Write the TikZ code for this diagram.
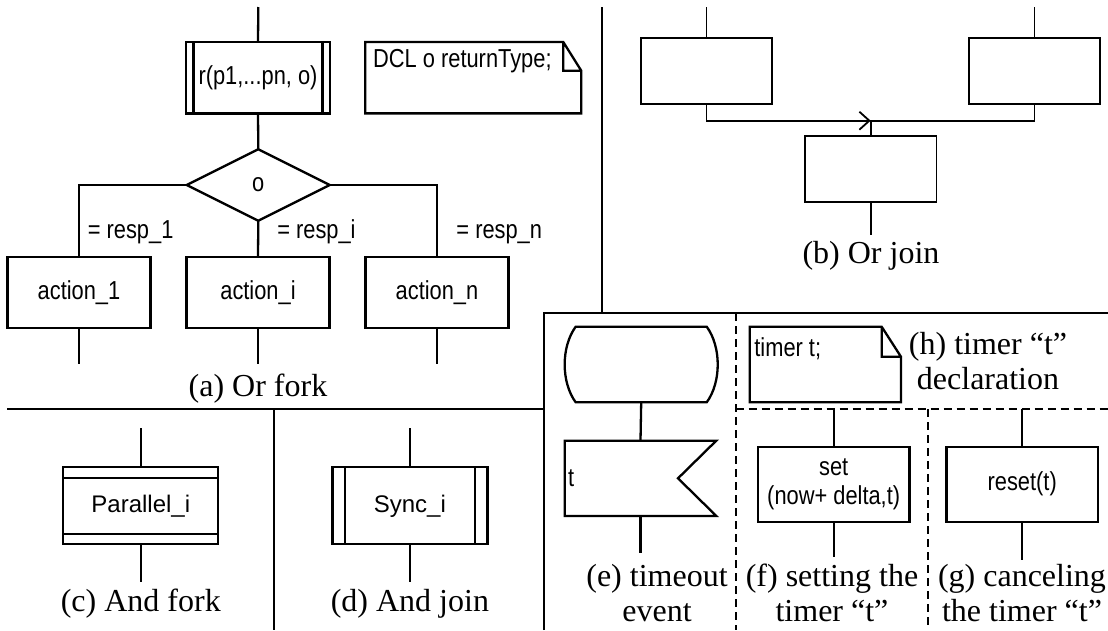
\documentclass[tikz,border=0pt]{standalone}
\usepackage{fontspec}
\setmainfont{Liberation Serif}
\newfontfamily\sdlfont[FakeStretch=0.84]{Liberation Sans}
\newfontfamily\plainsf{Liberation Sans}
\usetikzlibrary{shapes.geometric, arrows.meta}

\begin{document}
\begin{tikzpicture}[
    x=1pt, y=-1pt,
    line width=2.3pt,
    box/.style = {
        rectangle,
        draw,
        minimum width=143pt,
        minimum height=71pt,
        inner sep=0pt,
        outer sep=0pt,
        align=center,
        font=\sdlfont\fontsize{26}{29}\selectfont
    },
    callbox/.style = {box, minimum width=143.7pt, minimum height=71.3pt},
    decision/.style = {
        diamond, aspect=2, draw,
        minimum width=143pt, minimum height=71.5pt,
        inner sep=0pt, outer sep=0pt,
        font=\sdlfont\fontsize{26}{29}\selectfont
    },
    ghost/.style = {rectangle, inner sep=0pt, outer sep=0pt},
    joinbox/.style = {box, line width=1.8pt, minimum width=131.6pt, minimum height=65.7pt},
    forkbox/.style = {box, minimum width=155pt, minimum height=77pt,
        font=\plainsf\fontsize{24}{29}\selectfont},
    timerbox/.style = {box, minimum width=151.3pt, minimum height=75pt},
    guard/.style = {inner sep=0pt, font=\sdlfont\fontsize{26}{29}\selectfont},
    caption/.style = {inner sep=0pt, align=center, font=\fontsize{32}{35}\selectfont},
    divider/.style = {line width=2.2pt},
    split/.style = {line width=1.8pt, dash pattern=on 8pt off 5pt},
    arrow/.style = {-{Straight Barb[length=10pt, width=18pt]}, line width=1.8pt}
]
\useasboundingbox (0,0) rectangle (1108,630);

%% (a) Or fork
\coordinate (atop) at (258.3,7);
\node[callbox] (rcall) at (258,77.7) {r(p1,...pn, o)};
\node[ghost, minimum width=216pt, minimum height=71.3pt,
    label={[anchor=north west, inner xsep=6.7pt, inner ysep=6.5pt,
        font=\sdlfont\fontsize{26}{29}\selectfont]north west:DCL o returnType;}] (dcl) at (473.3,77.7) {};
\node[decision] (dec) at (258.3,185) {o};
\node[box] (act1) at (79,292.2) {action\_1};
\node[box] (acti) at (258,292.2) {action\_i};
\node[box] (actn) at (437,292.2) {action\_n};
\coordinate (act1out) at (79,364);
\coordinate (actiout) at (258,364);
\coordinate (actnout) at (437,364);

\draw (atop) -- (rcall.north);
\draw ([xshift=7.3pt]rcall.north west) -- ([xshift=7.3pt]rcall.south west)
      ([xshift=-7.3pt]rcall.north east) -- ([xshift=-7.3pt]rcall.south east);
\draw (dcl.north west) -- ([xshift=-18pt]dcl.north east) -- ([yshift=-28.7pt]dcl.north east)
      -- (dcl.south east) -- (dcl.south west) -- cycle
      ([xshift=-18pt]dcl.north east) |- ([yshift=-28.7pt]dcl.north east);
\draw (rcall.south) -- (dec.north);
\draw (dec.west) -| node[guard, pos=0.872, anchor=base west, xshift=7.7pt] {= resp\_1} (act1.north);
\draw (dec.south) -- node[guard, pos=0.488, anchor=base west, xshift=18pt] {= resp\_i} (acti.north);
\draw (dec.east) -| node[guard, pos=0.872, anchor=base west, xshift=18.3pt] {= resp\_n} (actn.north);
\draw (act1.south) -- (act1out);
\draw (acti.south) -- (actiout);
\draw (actn.south) -- (actnout);
\node[caption, anchor=base] (capa) at (258,396) {(a) Or fork};

%% (b) Or join
\coordinate (bltop) at (706.5,7);
\coordinate (brtop) at (1034.5,7);
\node[joinbox] (bl) at (706.5,71.2) {};
\node[joinbox] (br) at (1034.5,71.2) {};
\node[joinbox] (bm) at (870.7,169.2) {};
\coordinate (join) at (870.7,120.7);
\coordinate (bmout) at (870.7,235);
\begin{scope}[line width=1.8pt]
\draw (bltop) -- (bl.north);
\draw (brtop) -- (br.north);
\draw[arrow] (bl.south) |- (join);
\draw (br.south) |- (join) -- (bm.north);
\draw (bm.south) -- (bmout);
\end{scope}
\node[caption, anchor=base] (capb) at (871,263) {(b) Or join};

%% (c) And fork, (d) And join
\coordinate (ctop) at (140.8,428.3);
\coordinate (cout) at (140.8,581.7);
\node[forkbox] (par) at (140.8,505.8) {Parallel\_i};
\draw (ctop) -- (par.north);
\draw (par.south) -- (cout);
\draw ([yshift=-10.4pt]par.north west) -- ([yshift=-10.4pt]par.north east)
      ([yshift=10.4pt]par.south west) -- ([yshift=10.4pt]par.south east);
\node[caption, anchor=base] (capc) at (140.8,611.7) {(c) And fork};

\coordinate (dtop) at (409.9,428.3);
\coordinate (dout) at (409.9,581.7);
\node[forkbox] (sync) at (409.9,505.8) {Sync\_i};
\draw (dtop) -- (sync.north);
\draw (sync.south) -- (dout);
\draw ([xshift=12.6pt]sync.north west) -- ([xshift=12.6pt]sync.south west)
      ([xshift=-12.6pt]sync.north east) -- ([xshift=-12.6pt]sync.south east);
\node[caption, anchor=base] (capd) at (409.9,611.7) {(d) And join};

%% (e) timeout event
\node[ghost, minimum width=131pt, minimum height=75.6pt] (start) at (641.2,364.5) {};
\draw (start.north west) -- (start.north east)
      .. controls ([xshift=14.7pt, yshift=-20pt]start.north east)
      and ([xshift=14.7pt, yshift=20pt]start.south east) .. (start.south east)
      -- (start.south west)
      .. controls ([xshift=-14.7pt, yshift=20pt]start.south west)
      and ([xshift=-14.7pt, yshift=-20pt]start.north west) .. (start.north west) -- cycle;
\node[ghost, minimum width=151.6pt, minimum height=75.3pt, text width=145pt, align=left,
    font=\sdlfont\fontsize{26}{29}\selectfont] (tmo) at (640.5,478.3) {t};
\draw (tmo.north west) -- (tmo.north east) -- ([xshift=-38.3pt]tmo.east)
      -- (tmo.south east) -- (tmo.south west) -- cycle;
\coordinate (tmoout) at (640.5,553.3);
\draw (start.south) -- (tmo.north);
\draw (tmo.south) -- (tmoout);
\node[caption, anchor=base] (cape) at (657,621) {(e) timeout\\event};

%% (h) timer declaration
\node[ghost, minimum width=151.3pt, minimum height=75.6pt,
    label={[anchor=north west, inner xsep=3.6pt, inner ysep=9.5pt,
        font=\sdlfont\fontsize{26}{29}\selectfont]north west:timer t;}] (tdcl) at (825.3,364.5) {};
\draw (tdcl.north west) -- ([xshift=-19.3pt]tdcl.north east) -- ([yshift=-30pt]tdcl.north east)
      -- (tdcl.south east) -- (tdcl.south west) -- cycle
      ([xshift=-19.3pt]tdcl.north east) |- ([yshift=-30pt]tdcl.north east);
\node[caption, anchor=base] (caph) at (988,389) {(h) timer “t”\\declaration};

%% (f) setting, (g) canceling
\coordinate (ftop) at (833.7,409.3);
\coordinate (fout) at (833.7,556.7);
\node[timerbox] (setb) at (833.7,484.2) {set\\(now+ delta,t)};
\draw (ftop) -- (setb.north);
\draw (setb.south) -- (fout);
\node[caption, anchor=base] (capf) at (832,621) {(f) setting the\\timer “t”};

\coordinate (gtop) at (1022.2,409.3);
\coordinate (gout) at (1022.2,560);
\node[timerbox] (resetb) at (1022.2,484.2) {reset(t)};
\draw (gtop) -- (resetb.north);
\draw (resetb.south) -- (gout);
\node[caption, anchor=base] (capg) at (1022,621) {(g) canceling\\the timer “t”};

%% panel borders
\draw[divider] (601.7,7) -- (601.7,313.3);
\draw[divider] (7.3,409.3) -- (543.7,409.3);
\draw[divider] (274.3,409.3) -- (274.3,630);
\draw[divider] (543.7,630) -- (543.7,313.3) -- (1108,313.3);
\draw[split] (735.7,313.3) -- (735.7,630);
\draw[split] (735.7,409.3) -- (1108,409.3);
\draw[split] (928.3,409.3) -- (928.3,630);

\end{tikzpicture}
\end{document}
